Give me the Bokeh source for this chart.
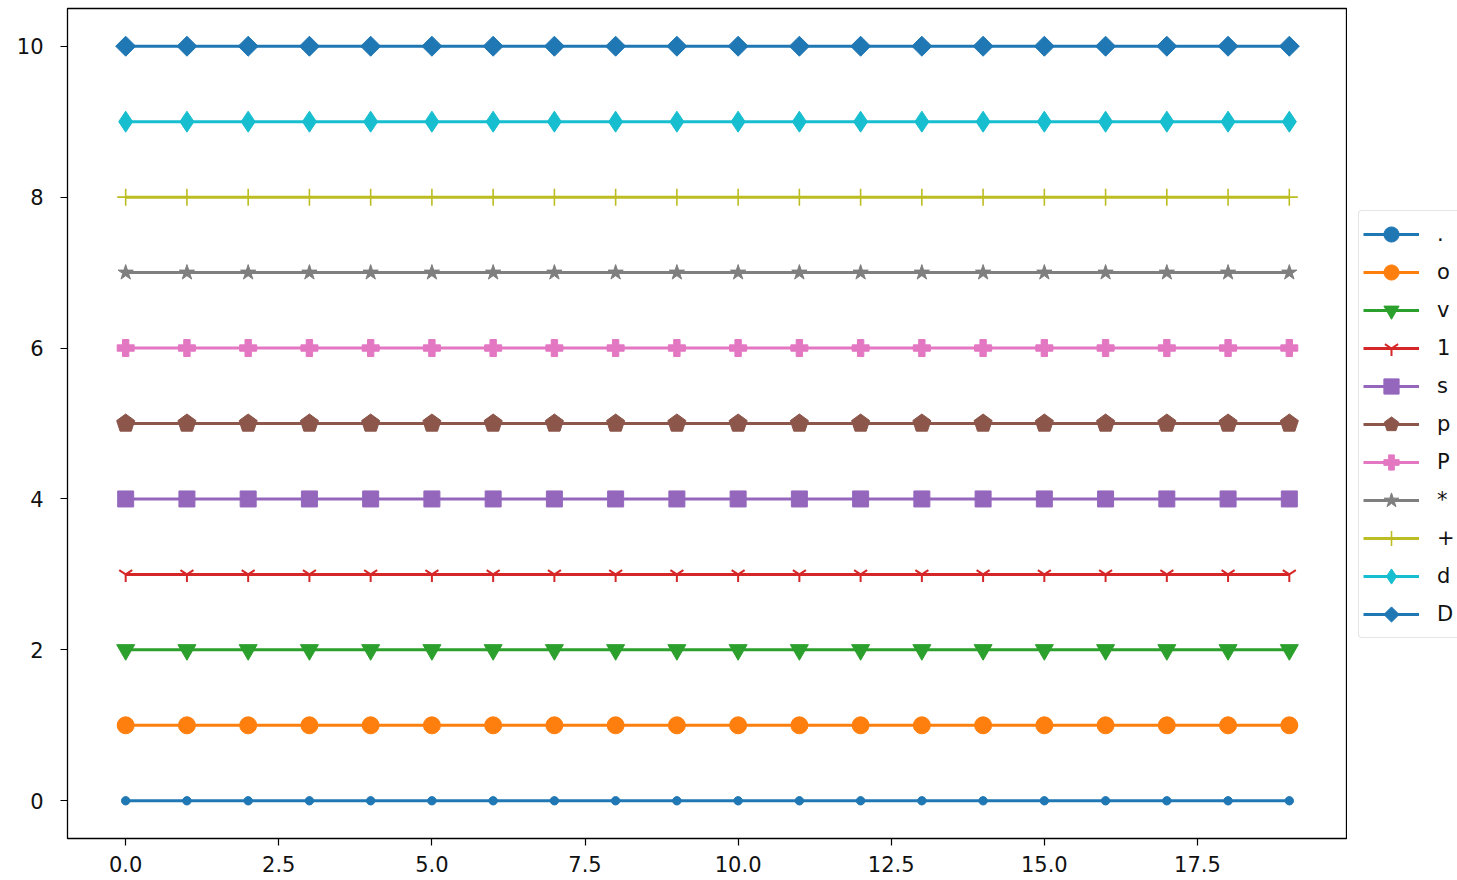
import numpy as np
from bokeh.plotting import figure
from bokeh.layouts import row
from bokeh.models import Legend, LegendItem, FixedTicker, NumeralTickFormatter
from bokeh.embed import file_html
from bokeh.resources import INLINE

# ---- data ----
x_values = [0, 1, 2, 3, 4, 5, 6, 7, 8, 9, 10, 11, 12, 13, 14, 15, 16, 17, 18, 19]
series_labels = [".", "o", "v", "1", "s", "p", "P", "*", "+", "d", "D"]
series_levels = [0, 1, 2, 3, 4, 5, 6, 7, 8, 9, 10]
series_colors = ["#1f77b4", "#ff7f0e", "#2ca02c", "#d62728", "#9467bd", "#8c564b",
                 "#e377c2", "#7f7f7f", "#bcbd22", "#17becf", "#1f77b4"]
x_ticks = [0.0, 2.5, 5.0, 7.5, 10.0, 12.5, 15.0, 17.5]
y_ticks = [0, 2, 4, 6, 8, 10]

# marker styling (bokeh equivalents of matplotlib markers)
marker_styles = {
    ".": dict(ngon=16, radius=4.2, fallback=dict(marker="circle", size=8)),
    "o": dict(marker="circle", size=17),
    "v": dict(marker="inverted_triangle", size=18),
    "1": dict(marker="y", size=15, line_width=2),
    "s": dict(marker="square", size=16),
    "p": dict(ngon=5, radius=9.5, fallback=dict(marker="hex", size=17)),
    "P": dict(marker="plus", size=17),
    "*": dict(marker="star", size=16),
    "+": dict(marker="cross", size=17, line_width=1.6),
    "d": dict(marker="diamond", size=21),
    "D": dict(ngon=4, radius=10, fallback=dict(marker="square", size=14, angle=np.pi / 4)),
}

p = figure(width=1347, height=880, frame_width=1280, frame_height=830,
           x_range=(-0.95, 19.95), y_range=(-0.5, 10.5),
           output_backend="svg", toolbar_location=None,
           min_border_left=67, min_border_right=0, min_border_top=8, min_border_bottom=42)
p.grid.visible = False
p.outline_line_color = "black"
p.outline_line_width = 1.3
p.background_fill_color = "white"
p.border_fill_color = "white"

for ax in (p.xaxis[0], p.yaxis[0]):
    ax.axis_line_color = None
    ax.major_tick_line_color = "black"
    ax.major_tick_line_width = 1.2
    ax.major_tick_out = 7
    ax.major_tick_in = 0
    ax.minor_tick_line_color = None
    ax.major_label_text_font = "DejaVu Sans"
    ax.major_label_text_font_size = "21px"
    ax.major_label_text_color = "#111111"

p.xaxis[0].ticker = FixedTicker(ticks=x_ticks)
p.xaxis[0].formatter = NumeralTickFormatter(format="0.0")
p.xaxis[0].major_label_standoff = 10
p.yaxis[0].ticker = FixedTicker(ticks=y_ticks)
p.yaxis[0].major_label_standoff = 17

# side figure that only holds the legend (outside the axes box, as in the reference)
pl = figure(width=110, height=880, x_range=(-0.95, 19.95), y_range=(-0.5, 10.5),
            output_backend="svg", toolbar_location=None,
            x_axis_location=None, y_axis_location=None, min_border=0)
pl.grid.visible = False
pl.outline_line_color = None
pl.background_fill_color = "white"
pl.border_fill_color = "white"

HAS_NGON = hasattr(p, "ngon")


def add_series(fig, xs, ys, label, color):
    ln = fig.line(xs, ys, line_color=color, line_width=3)
    st = dict(marker_styles[label])
    if "ngon" in st:
        if HAS_NGON:
            return ln, fig.ngon(xs, ys, radius=st["radius"], n=st["ngon"],
                                radius_units="screen", angle=0,
                                fill_color=color, line_color=color)
        st = dict(st["fallback"])
    lw = st.pop("line_width", 1)
    mk = fig.scatter(xs, ys, fill_color=color, line_color=color,
                     line_width=lw, **st)
    return ln, mk


items = []
for label, level, color in zip(series_labels, series_levels, series_colors):
    ys = [level] * len(x_values)
    add_series(p, x_values, ys, label, color)
    # hidden legend proxies of the same series in the side figure
    ln2, mk2 = add_series(pl, x_values, ys, label, color)
    ln2.visible = False
    mk2.visible = False
    items.append(LegendItem(label=label, renderers=[ln2, mk2]))

legend = Legend(items=items, location=(11, 200),
                glyph_width=56, glyph_height=38, label_height=30, spacing=0,
                padding=4, margin=0, label_standoff=18, label_width=14,
                label_text_font="DejaVu Sans", label_text_font_size="21px",
                label_text_color="#111111",
                border_line_color="#cccccc", border_line_width=1.2,
                background_fill_color="white", background_fill_alpha=1.0)
props = Legend.properties()
if "inactive_fill_alpha" in props:
    legend.inactive_fill_alpha = 0.0
if "border_radius" in props:
    legend.border_radius = 4
pl.add_layout(legend, "center")

layout = row(p, pl, spacing=0)
html = file_html(layout, INLINE)
html = html.replace("<head>", "<head><style>html,body{margin:0;overflow:hidden}</style>", 1)
open("out.html", "w").write(html)
